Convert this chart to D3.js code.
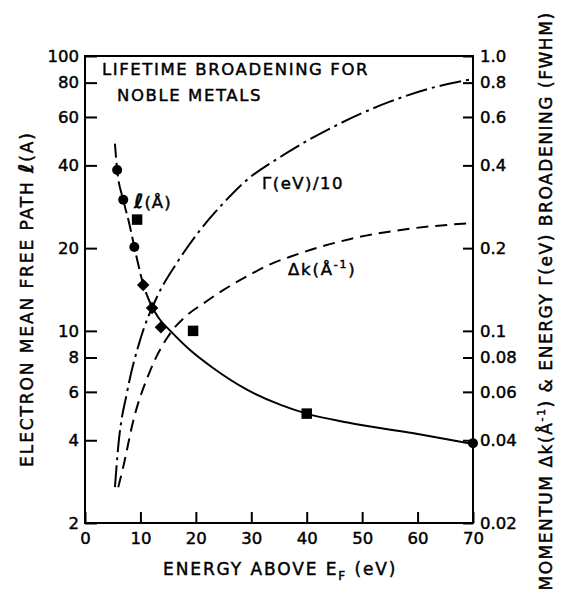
<!DOCTYPE html>
<html>
<head>
<meta charset="utf-8">
<script src="https://cdn.jsdelivr.net/npm/d3@7/dist/d3.min.js"></script>
<style>
  html, body { margin: 0; padding: 0; background: #fff; }
  svg { display: block; }
  text { font-family: "DejaVu Sans", "Liberation Sans", sans-serif; fill: #000; stroke: #000; stroke-width: 0.45px; }
</style>
</head>
<body>
<svg id="chart" width="562" height="605"></svg>
<script>
// Energy above the Fermi level (eV) axis ticks
const xTicks = [0, 10, 20, 30, 40, 50, 60, 70];
// Left axis: electron mean free path (Å), log scale
const leftTicks = [2, 4, 6, 8, 10, 20, 40, 60, 80, 100];
const leftTickLabels = ["2", "4", "6", "8", "10", "20", "40", "60", "80", "100"];
// Right axis: Δk (Å⁻¹) and Γ(eV) broadening, log scale
const rightTicks = [0.02, 0.04, 0.06, 0.08, 0.1, 0.2, 0.4, 0.6, 0.8, 1.0];
const rightTickLabels = ["0.02", "0.04", "0.06", "0.08", "0.1", "0.2", "0.4", "0.6", "0.8", "1.0"];

// Measured mean free paths ℓ (Å)
const circleE = [5.8, 6.9, 8.9, 70];
const circleL = [38.5, 30, 20.2, 3.9];
const squareE = [9.4, 19.5, 40];
const squareL = [25.4, 10, 5.0];
const diamondE = [10.5, 12.1, 13.7];
const diamondL = [14.7, 12.1, 10.3];

// Mean free path curve: dashed through the low-energy points, solid above
const lDashE = [5.4, 5.8, 6.9, 8.0, 8.9, 10.5, 12.1];
const lDashL = [48, 38.5, 30, 24.5, 20.2, 14.8, 12.2];
const lSolidE = [12.1, 13.5, 15.4, 19, 23.1, 29.3, 35.3, 40, 47.4, 59.3, 70];
const lSolidL = [12.2, 11.0, 10.0, 8.5, 7.33, 6.1, 5.38, 5.0, 4.64, 4.24, 3.88];

// Energy broadening Γ(eV)/10 (right axis)
const gammaE = [5.4, 6.0, 7.6, 9.9, 13, 16.6, 20.8, 25, 29.2, 35.3, 45, 55, 62, 70];
const gammaV = [0.027, 0.038, 0.060, 0.092, 0.133, 0.177, 0.233, 0.292, 0.354, 0.43, 0.555, 0.682, 0.76, 0.825];

// Momentum broadening Δk (Å⁻¹) (right axis)
const dkE = [6.0, 6.9, 8.7, 11.8, 15.7, 18.4, 21.4, 25, 29.5, 33.5, 37, 47.9, 57, 70];
const dkV = [0.027, 0.032, 0.047, 0.072, 0.10, 0.114, 0.126, 0.141, 0.159, 0.175, 0.186, 0.216, 0.233, 0.247];

const svg = d3.select("#chart");
const plotLeft = 85, plotRight = 473, plotTop = 56, plotBottom = 523;

const x = d3.scaleLinear().domain([0, 70]).range([plotLeft, plotRight]);
const yL = d3.scaleLog().domain([2, 100]).range([plotBottom, plotTop]);
const yR = d3.scaleLog().domain([0.02, 1]).range([plotBottom, plotTop]);

// Axes with inward ticks
const gx = svg.append("g").attr("transform", `translate(0,${plotBottom})`)
  .call(d3.axisBottom(x).tickValues(xTicks).tickSize(-11).tickSizeOuter(0).tickPadding(9)
    .tickFormat(d3.format("d")));
const gl = svg.append("g").attr("transform", `translate(${plotLeft},0)`)
  .call(d3.axisLeft(yL).tickValues(leftTicks).tickSize(-12).tickSizeOuter(0).tickPadding(6)
    .tickFormat((d, i) => leftTickLabels[i]));
const gr = svg.append("g").attr("transform", `translate(${plotRight},0)`)
  .call(d3.axisRight(yR).tickValues(rightTicks).tickSize(-10).tickSizeOuter(0).tickPadding(7)
    .tickFormat((d, i) => rightTickLabels[i]));

[gx, gl, gr].forEach(g => {
  g.select(".domain").remove();
  g.selectAll(".tick line").attr("stroke", "#000").attr("stroke-width", 2);
  g.selectAll(".tick text").attr("font-size", 16.5).attr("font-family", "DejaVu Sans").attr("fill", "#000");
});
gx.selectAll(".tick text").attr("dy", "0.71em");

// Frame
svg.append("rect")
  .attr("x", plotLeft).attr("y", plotTop)
  .attr("width", plotRight - plotLeft).attr("height", plotBottom - plotTop)
  .attr("fill", "none").attr("stroke", "#000").attr("stroke-width", 2);

// Curves
const lineL = d3.line().curve(d3.curveMonotoneX).x(d => x(d[0])).y(d => yL(d[1]));
const lineR = d3.line().curve(d3.curveMonotoneX).x(d => x(d[0])).y(d => yR(d[1]));

svg.append("path").datum(d3.zip(lDashE, lDashL))
  .attr("d", lineL).attr("fill", "none").attr("stroke", "#000")
  .attr("stroke-width", 2).attr("stroke-dasharray", "14,5");
svg.append("path").datum(d3.zip(lSolidE, lSolidL))
  .attr("d", lineL).attr("fill", "none").attr("stroke", "#000").attr("stroke-width", 2);
svg.append("path").datum(d3.zip(gammaE, gammaV))
  .attr("d", lineR).attr("fill", "none").attr("stroke", "#000")
  .attr("stroke-width", 2).attr("stroke-dasharray", "22,5,3,5");
svg.append("path").datum(d3.zip(dkE, dkV))
  .attr("d", lineR).attr("fill", "none").attr("stroke", "#000")
  .attr("stroke-width", 2).attr("stroke-dasharray", "12,7");

// Markers
svg.append("g").selectAll("circle").data(d3.zip(circleE, circleL)).join("circle")
  .attr("cx", d => x(d[0])).attr("cy", d => yL(d[1])).attr("r", 5).attr("fill", "#000");
svg.append("g").selectAll("path").data(d3.zip(squareE, squareL)).join("path")
  .attr("d", d3.symbol(d3.symbolSquare, 110))
  .attr("transform", d => `translate(${x(d[0])},${yL(d[1])})`).attr("fill", "#000");
svg.append("g").selectAll("path").data(d3.zip(diamondE, diamondL)).join("path")
  .attr("d", d3.symbol(d3.symbolSquare, 78))
  .attr("transform", d => `translate(${x(d[0])},${yL(d[1])}) rotate(45)`).attr("fill", "#000");

// Title block
const title = svg.append("g").attr("font-size", 16.5).attr("letter-spacing", 1.6);
title.append("text").attr("x", 102).attr("y", 75).text("LIFETIME BROADENING FOR");
title.append("text").attr("x", 117).attr("y", 101).text("NOBLE METALS");

// Curve labels
const ll = svg.append("text").attr("x", 134).attr("y", 208).attr("font-size", 16.5).attr("letter-spacing", 1);
ll.append("tspan").attr("font-style", "italic").attr("font-weight", "bold").attr("font-size", 20).text("ℓ");
ll.append("tspan").text("(Å)");

svg.append("text").attr("x", 262).attr("y", 189).attr("font-size", 16.5).attr("letter-spacing", 1.5)
  .text("Γ(eV)/10");

const dk = svg.append("text").attr("x", 288).attr("y", 275).attr("font-size", 16.5).attr("letter-spacing", 1.8);
dk.append("tspan").text("Δk(Å");
dk.append("tspan").attr("font-size", 11).attr("dy", -7).text("-1");
dk.append("tspan").attr("dy", 7).text(")");

// Axis titles
const xt = svg.append("text").attr("x", 163).attr("y", 575).attr("font-size", 17).attr("letter-spacing", 1.9);
xt.append("tspan").text("ENERGY ABOVE E");
xt.append("tspan").attr("font-size", 12).attr("dy", 5).text("F");
xt.append("tspan").attr("dy", -5).text(" (eV)");

const lt = svg.append("text").attr("transform", "translate(33,299) rotate(-90)")
  .attr("text-anchor", "middle").attr("font-size", 17).attr("letter-spacing", 1.9);
lt.append("tspan").text("ELECTRON MEAN FREE PATH  ");
lt.append("tspan").attr("font-style", "italic").attr("font-weight", "bold").attr("font-size", 20).text("ℓ");
lt.append("tspan").text("(A)");

const rt = svg.append("text").attr("transform", "translate(552,301) rotate(-90)")
  .attr("text-anchor", "middle").attr("font-size", 17).attr("letter-spacing", 1.55);
rt.append("tspan").text("MOMENTUM  Δk(Å");
rt.append("tspan").attr("font-size", 11).attr("dy", -7).text("-1");
rt.append("tspan").attr("dy", 7).text(")  &  ENERGY  Γ(eV)  BROADENING  (FWHM)");
</script>
</body>
</html>
